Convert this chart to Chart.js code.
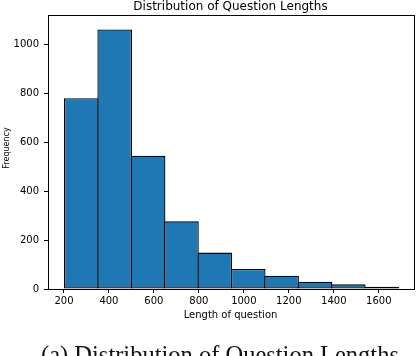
<!DOCTYPE html>
<html>
<head>
<meta charset="utf-8">
<script src="https://cdn.jsdelivr.net/npm/chart.js@4.4.1/dist/chart.umd.min.js"></script>
<style>
  html, body { margin: 0; padding: 0; background: #fff; }
  canvas { display: block; }
</style>
</head>
<body>
<canvas id="c" width="416" height="356"></canvas>
<script>
// ---- data ----
const binEdges = [203, 351.4, 499.8, 648.2, 796.6, 945, 1093.4, 1241.8, 1390.2, 1538.6, 1687];
const counts   = [781, 1063, 546, 277, 149, 82, 54, 30, 19, 9];
const xTicks   = [200, 400, 600, 800, 1000, 1200, 1400, 1600];
const yTicks   = [0, 200, 400, 600, 800, 1000];
const titleText   = 'Distribution of Question Lengths';
const xLabelText  = 'Length of question';
const yLabelText  = 'Frequency';
const captionText = '(a) Distribution of Question Lengths';

const barData = counts.map((c, i) => ({ x: (binEdges[i] + binEdges[i + 1]) / 2, y: c }));

const sans = '"DejaVu Sans", sans-serif';

const decor = {
  id: 'decor',
  afterDraw(chart) {
    const ctx = chart.ctx;
    const a = chart.chartArea;
    ctx.save();
    // frame (spines)
    ctx.strokeStyle = '#000';
    ctx.lineWidth = 1;
    ctx.strokeRect(Math.round(a.left) + 0.5, Math.round(a.top) - 0.5,
                   Math.round(a.right) - Math.round(a.left) - 1, Math.round(a.bottom) - Math.round(a.top) + 1);
    ctx.fillStyle = '#000';
    // title
    ctx.font = '12px ' + sans;
    ctx.textAlign = 'center';
    ctx.textBaseline = 'alphabetic';
    ctx.fillText(titleText, (a.left + a.right) / 2 - 1, 10);
    // x label
    ctx.font = '10px ' + sans;
    ctx.fillText(xLabelText, (a.left + a.right) / 2 - 1, 317.5);
    // y label
    ctx.save();
    ctx.translate(8.6, 148);
    ctx.rotate(-Math.PI / 2);
    ctx.font = '8px ' + sans;
    ctx.fillText(yLabelText, 0, 0);
    ctx.restore();
    // caption
    ctx.font = '24.5px "Liberation Serif", "Times New Roman", serif';
    ctx.fillStyle = '#111';
    ctx.fillText(captionText, 220, 363);
    ctx.restore();
  }
};

new Chart(document.getElementById('c'), {
  type: 'bar',
  data: {
    datasets: [{
      data: barData,
      backgroundColor: '#1f77b4',
      borderColor: '#000',
      borderWidth: 1.3,
      borderSkipped: false,
      barPercentage: 1.039,
      categoryPercentage: 1
    }]
  },
  options: {
    responsive: false,
    devicePixelRatio: 1,
    animation: false,
    layout: { padding: { top: 16, right: 1, left: 0, bottom: 0 } },
    plugins: { legend: { display: false }, title: { display: false }, tooltip: { enabled: false } },
    scales: {
      x: {
        type: 'linear',
        offset: false,
        min: 129,
        max: 1761,
        afterBuildTicks: s => { s.ticks = xTicks.map(v => ({ value: v })); },
        afterFit: s => { s.height = 67; },
        grid: { display: true, offset: false, drawOnChartArea: false, drawTicks: true, tickLength: 4, color: '#000', lineWidth: 1 },
        border: { display: false },
        ticks: { color: '#000', font: { family: sans, size: 10 }, padding: 2, maxRotation: 0, autoSkip: false,
                 callback: v => String(v) }
      },
      y: {
        type: 'linear',
        min: 0,
        max: 1118,
        afterBuildTicks: s => { s.ticks = yTicks.map(v => ({ value: v })); },
        afterFit: s => { s.width = 48; },
        grid: { display: true, drawOnChartArea: false, drawTicks: true, tickLength: 4, color: '#000', lineWidth: 1 },
        border: { display: false },
        ticks: { color: '#000', font: { family: sans, size: 10 }, padding: 5, callback: v => String(v) }
      }
    }
  },
  plugins: [decor]
});
</script>
</body>
</html>
